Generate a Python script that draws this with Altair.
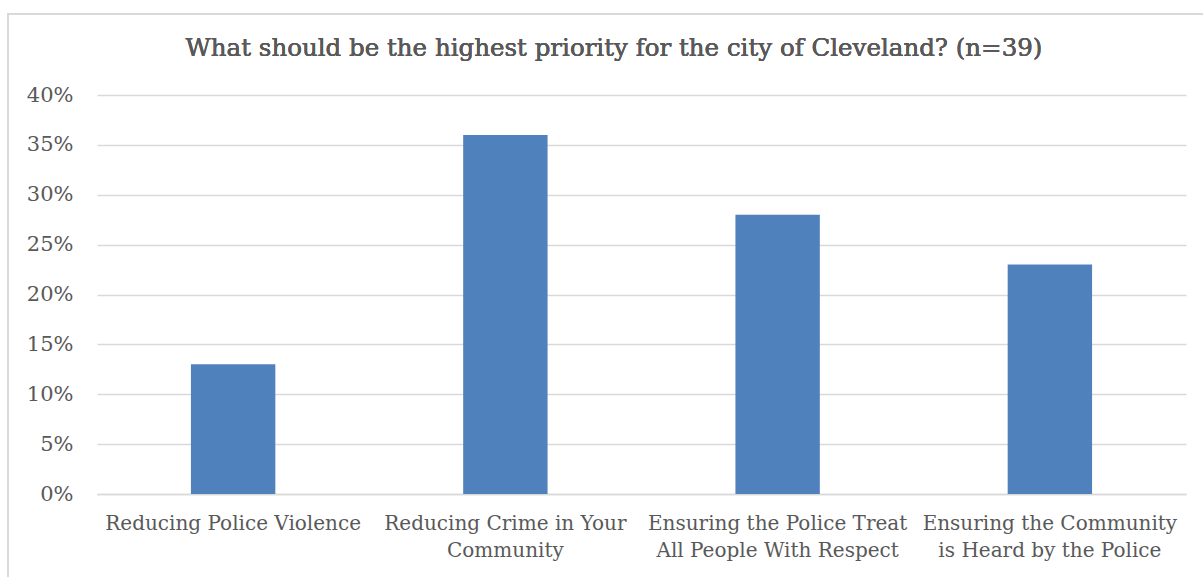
import altair as alt
import pandas as pd

categories = [
    "Reducing Police Violence",
    "Reducing Crime in Your Community",
    "Ensuring the Police Treat All People With Respect",
    "Ensuring the Community is Heard by the Police",
]
values = [0.13, 0.36, 0.28, 0.23]
label_lines = [
    ["Reducing Police Violence"],
    ["Reducing Crime in Your", "Community"],
    ["Ensuring the Police Treat", "All People With Respect"],
    ["Ensuring the Community", "is Heard by the Police"],
]
title_text = "What should be the highest priority for the city of Cleveland? (n=39)"

df = pd.DataFrame({"category": categories, "value": values})

W, H = 1089, 399
LEFT, TOP = 97, 95
FONT = "DejaVu Serif"
GRAY = "#595959"

expr = "''"
for cat, lines in reversed(list(zip(categories, label_lines))):
    arr = "[" + ",".join("'" + l + "'" for l in lines) + "]"
    expr = f"datum.value == '{cat}' ? {arr} : ({expr})"

bars = alt.Chart(df).mark_bar(color="#4f81bd").encode(
    x=alt.X(
        "category:N",
        sort=categories,
        scale=alt.Scale(paddingInner=0.69, paddingOuter=0.345),
        axis=alt.Axis(
            title=None,
            labelAngle=0,
            labelExpr=expr,
            labelFont=FONT,
            labelFontSize=20,
            labelColor=GRAY,
            labelPadding=19,
            labelLineHeight=27,
            labelLimit=0,
            ticks=False,
            domainColor="#d9d9d9",
            domainWidth=1.5,
            grid=False,
        ),
    ),
    y=alt.Y(
        "value:Q",
        scale=alt.Scale(domain=[0, 0.4]),
        axis=alt.Axis(
            title=None,
            format=".0%",
            values=[0, 0.05, 0.1, 0.15, 0.2, 0.25, 0.3, 0.35, 0.4],
            labelFont=FONT,
            labelFontSize=21,
            labelColor=GRAY,
            labelPadding=24,
            ticks=False,
            domain=False,
            gridColor="#d9d9d9",
            gridWidth=1.5,
        ),
    ),
)

title = alt.Chart(df).mark_text(
    font=FONT, fontSize=24.5, color=GRAY, align="center", baseline="middle"
).encode(
    x=alt.value(614 - LEFT),
    y=alt.value(49 - TOP),
    text=alt.value(title_text),
)

border = alt.Chart(df).mark_rect(
    fill=None, stroke="#d9d9d9", strokeWidth=1.5
).encode(
    x=alt.value(8 - LEFT),
    x2=alt.value(1230 - LEFT),
    y=alt.value(14 - TOP),
    y2=alt.value(600 - TOP),
)

chart = alt.layer(border, bars, title).properties(
    width=W,
    height=H,
    autosize=alt.AutoSizeParams(type="none"),
    padding={"left": LEFT, "top": TOP, "right": 1203 - LEFT - W, "bottom": 577 - TOP - H},
    background="white",
).configure_view(stroke=None)

chart.save("out.html", embed_options={"renderer": "svg", "actions": False})
